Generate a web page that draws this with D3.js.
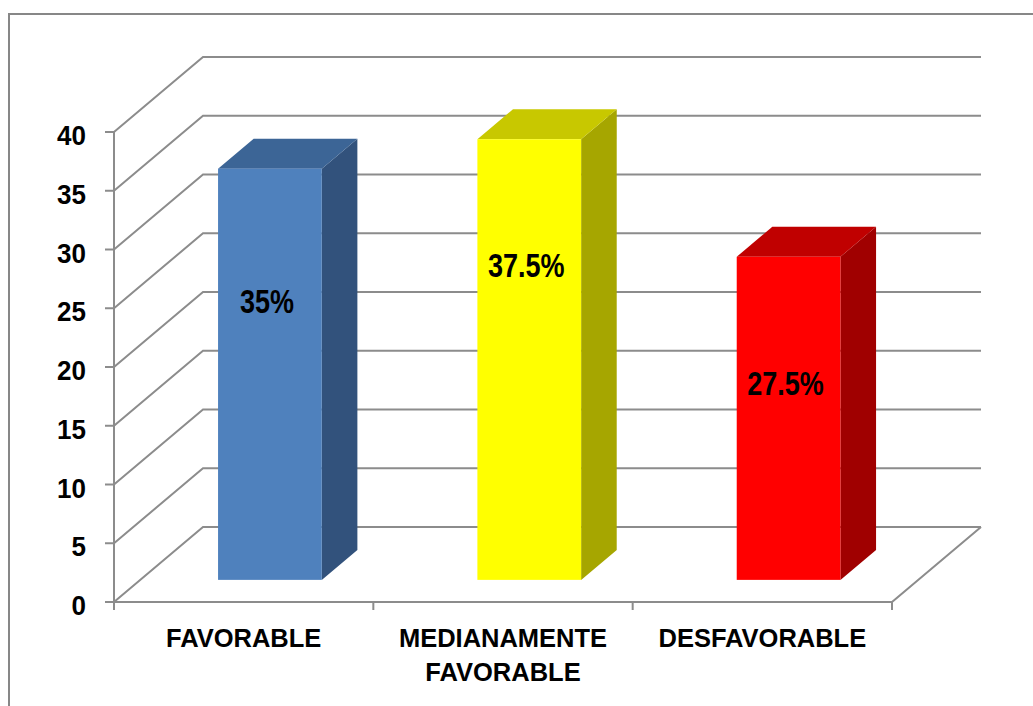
<!DOCTYPE html>
<html>
<head>
<meta charset="utf-8">
<script src="https://cdn.jsdelivr.net/npm/d3@7"></script>
<style>
  html, body { margin: 0; padding: 0; background: #fff; }
  svg { display: block; }
  text { font-family: "Liberation Sans", Arial, sans-serif; font-weight: bold; fill: #000; }
</style>
</head>
<body>
<svg id="chart" width="1033" height="706"></svg>
<script>
// Chart data
const categories = ["FAVORABLE", "MEDIANAMENTE FAVORABLE", "DESFAVORABLE"];
const values = [35, 37.5, 27.5];
const valueLabels = ["35%", "37.5%", "27.5%"];
const tickValues = [0, 5, 10, 15, 20, 25, 30, 35, 40];

// Face colours for each bar: front, top, side
const barColors = [
  { front: "#4F81BD", top: "#3C6596", side: "#32527C" },
  { front: "#FFFF00", top: "#C8C800", side: "#A6A600" },
  { front: "#FF0000", top: "#C00000", side: "#A00000" }
];
// Height (in axis units) at which each value label sits on its bar
const labelLevels = [23.7, 26.8, 16.7];

const svg = d3.select("#chart");

// Outer frame
svg.append("rect")
  .attr("x", 9).attr("y", 14)
  .attr("width", 1040).attr("height", 720)
  .attr("fill", "none").attr("stroke", "#878787").attr("stroke-width", 2);

// 3D projection: depth offset of the back wall
const depth = { dx: 89, dy: -75 };
const y = d3.scaleLinear().domain([0, 40]).range([602, 132]);
const x = d3.scaleBand().domain(categories).range([114, 892]).padding(0);
const bw = x.bandwidth();

const gridColor = "#8C8C8C";
const grid = svg.append("g").attr("fill", "none").attr("stroke", gridColor).attr("stroke-width", 2);

// Side wall diagonals and back wall gridlines
tickValues.forEach(v => {
  const y0 = y(v);
  grid.append("path")
    .attr("d", d3.line()([
      [114, y0],
      [114 + depth.dx, y0 + depth.dy],
      [892 + depth.dx, y0 + depth.dy]
    ]));
});

// Floor front edge and right diagonal
grid.append("path").attr("d", d3.line()([[114, y(0)], [892, y(0)], [892 + depth.dx, y(0) + depth.dy]]));

// Value axis
grid.append("line").attr("x1", 114).attr("x2", 114).attr("y1", y(40)).attr("y2", y(0) + 8);
tickValues.forEach(v => {
  grid.append("line").attr("x1", 105).attr("x2", 114).attr("y1", y(v)).attr("y2", y(v));
});

// Category ticks
const catEdges = categories.map(c => x(c)).concat([892]);
catEdges.forEach(cx => {
  grid.append("line").attr("x1", cx).attr("x2", cx).attr("y1", y(0)).attr("y2", y(0) + 8);
});

// Tick labels
svg.append("g").selectAll("text").data(tickValues).join("text")
  .attr("text-anchor", "end")
  .attr("font-size", 26)
  .attr("transform", d => `translate(86,${y(d) + 13}) scale(1,1.07)`)
  .text(d => d);

// Bars: placed between 30% and 70% of the band and of the depth
const f0 = 0.295, f1 = 0.695;
const bars = svg.append("g");
values.forEach((v, i) => {
  const c = barColors[i];
  const ox = f0 * depth.dx, oy = f0 * depth.dy;
  const bx = (f1 - f0) * depth.dx, by = (f1 - f0) * depth.dy;
  const xl = x(categories[i]) + 0.3 * bw + ox;
  const xr = x(categories[i]) + 0.7 * bw + ox;
  const yb = y(0) + oy;
  const yt = y(v) + oy;
  const poly = pts => "M" + pts.map(p => p.join(",")).join("L") + "Z";
  // side face
  bars.append("path").attr("fill", c.side)
    .attr("d", poly([[xr, yb], [xr + bx, yb + by], [xr + bx, yt + by], [xr, yt]]));
  // top face
  bars.append("path").attr("fill", c.top)
    .attr("d", poly([[xl, yt], [xl + bx, yt + by], [xr + bx, yt + by], [xr, yt]]));
  // front face
  bars.append("rect").attr("fill", c.front)
    .attr("x", xl).attr("y", yt).attr("width", xr - xl).attr("height", yb - yt);
  // value label
  bars.append("text")
    .attr("text-anchor", "middle")
    .attr("font-size", 27)
    .attr("transform", `translate(${(xl + xr) / 2 - 3},${y(labelLevels[i]) + oy + 11.6}) scale(1,1.2)`)
    .text(valueLabels[i]);
});

// Category labels, wrapped onto two lines where needed
const catLabels = svg.append("g");
categories.forEach(c => {
  const words = c.split(" ");
  const lines = words.length > 1 ? [words[0], words.slice(1).join(" ")] : [c];
  lines.forEach((ln, k) => {
    catLabels.append("text")
      .attr("text-anchor", "middle")
      .attr("font-size", 25.5)
      .attr("transform", `translate(${x(c) + bw / 2},${646.5 + k * 34}) scale(1,1.04)`)
      .text(ln);
  });
});
</script>
</body>
</html>
